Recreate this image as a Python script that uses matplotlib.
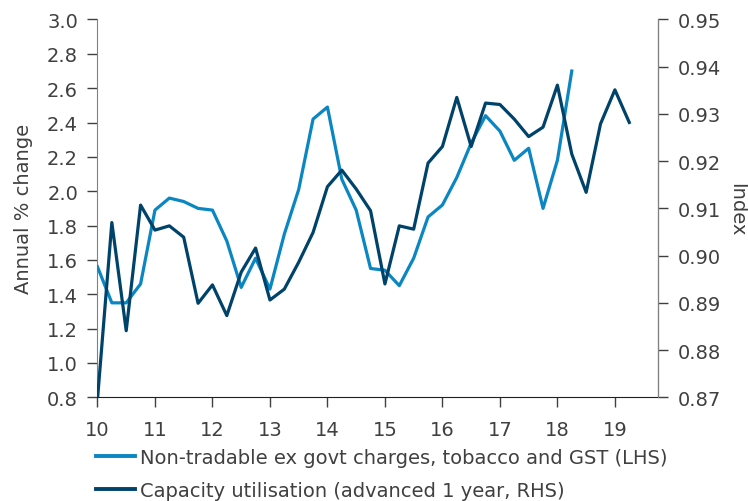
import matplotlib.pyplot as plt
from matplotlib.lines import Line2D

plt.rcParams["font.family"] = ["DejaVu Sans"]

# quarterly, x = year (2010 = 10)
nt_start = 10.0
nontradable = [1.56, 1.35, 1.35, 1.46, 1.89, 1.96, 1.94, 1.90, 1.89, 1.71,
               1.44, 1.61, 1.43, 1.75, 2.01, 2.42, 2.49, 2.07, 1.89, 1.55,
               1.54, 1.45, 1.61, 1.85, 1.92, 2.08, 2.28, 2.44, 2.35, 2.18,
               2.25, 1.90, 2.18, 2.70]

cu_start = 10.0
capacity = [0.8695, 0.907, 0.8841, 0.9107, 0.9054, 0.9063, 0.9039, 0.8899, 0.8938, 0.8873,
            0.8965, 0.9016, 0.8906, 0.8929, 0.8986, 0.9049, 0.9146, 0.9181, 0.9141, 0.9095,
            0.8940, 0.9063, 0.9056, 0.9196, 0.9231, 0.9335, 0.9231, 0.9323, 0.9320, 0.9289,
            0.9252, 0.9272, 0.9361, 0.9215, 0.9134, 0.9279, 0.9351, 0.9282]

light = "#0a86c2"
dark = "#00436a"
txt = "#404040"

x_nt = [nt_start + i * 0.25 for i in range(len(nontradable))]
x_cu = [cu_start + i * 0.25 for i in range(len(capacity))]

fig = plt.figure(figsize=(7.48, 5.02), dpi=100)
ax = fig.add_axes([0.1303, 0.2066, 0.7494, 0.7526])
ax2 = ax.twinx()

ax.plot(x_nt, nontradable, color=light, lw=2.3, zorder=3)
ax2.plot(x_cu, capacity, color=dark, lw=2.3, zorder=3)

ax.set_xlim(10, 19.75)
ax.set_ylim(0.8, 3.0)
ax2.set_ylim(0.87, 0.95)
ax.set_xticks(range(10, 20))
ax.set_yticks([0.8 + 0.2 * i for i in range(12)])
ax.set_yticklabels([f"{0.8 + 0.2 * i:.1f}" for i in range(12)])
ax2.set_yticks([0.87 + 0.01 * i for i in range(9)])
ax2.set_yticklabels([f"{0.87 + 0.01 * i:.2f}" for i in range(9)])

for a in (ax, ax2):
    a.spines["top"].set_visible(False)
    a.tick_params(labelsize=14, colors=txt, length=7, width=1, pad=7)
ax.spines["left"].set_color("#808080")
ax.spines["bottom"].set_color("#202020")
ax2.spines["right"].set_color("#808080")
ax2.spines["left"].set_visible(False)
ax2.spines["bottom"].set_visible(False)
ax.tick_params(axis="x", pad=9)

ax.set_ylabel("Annual % change", fontsize=14, color=txt, labelpad=10)
ax2.set_ylabel("Index", fontsize=14, color=txt, rotation=270, labelpad=18)

handles = [Line2D([], [], color=light, lw=2.8), Line2D([], [], color=dark, lw=2.8)]
labels = ["Non-tradable ex govt charges, tobacco and GST (LHS)",
          "Capacity utilisation (advanced 1 year, RHS)"]
fig.legend(handles, labels, loc="upper left", bbox_to_anchor=(0.118, 0.122),
           frameon=False, fontsize=14, labelcolor=txt, handlelength=2.0,
           handletextpad=0.25, borderaxespad=0, labelspacing=0.72)

fig.savefig("out.png", dpi=100)
